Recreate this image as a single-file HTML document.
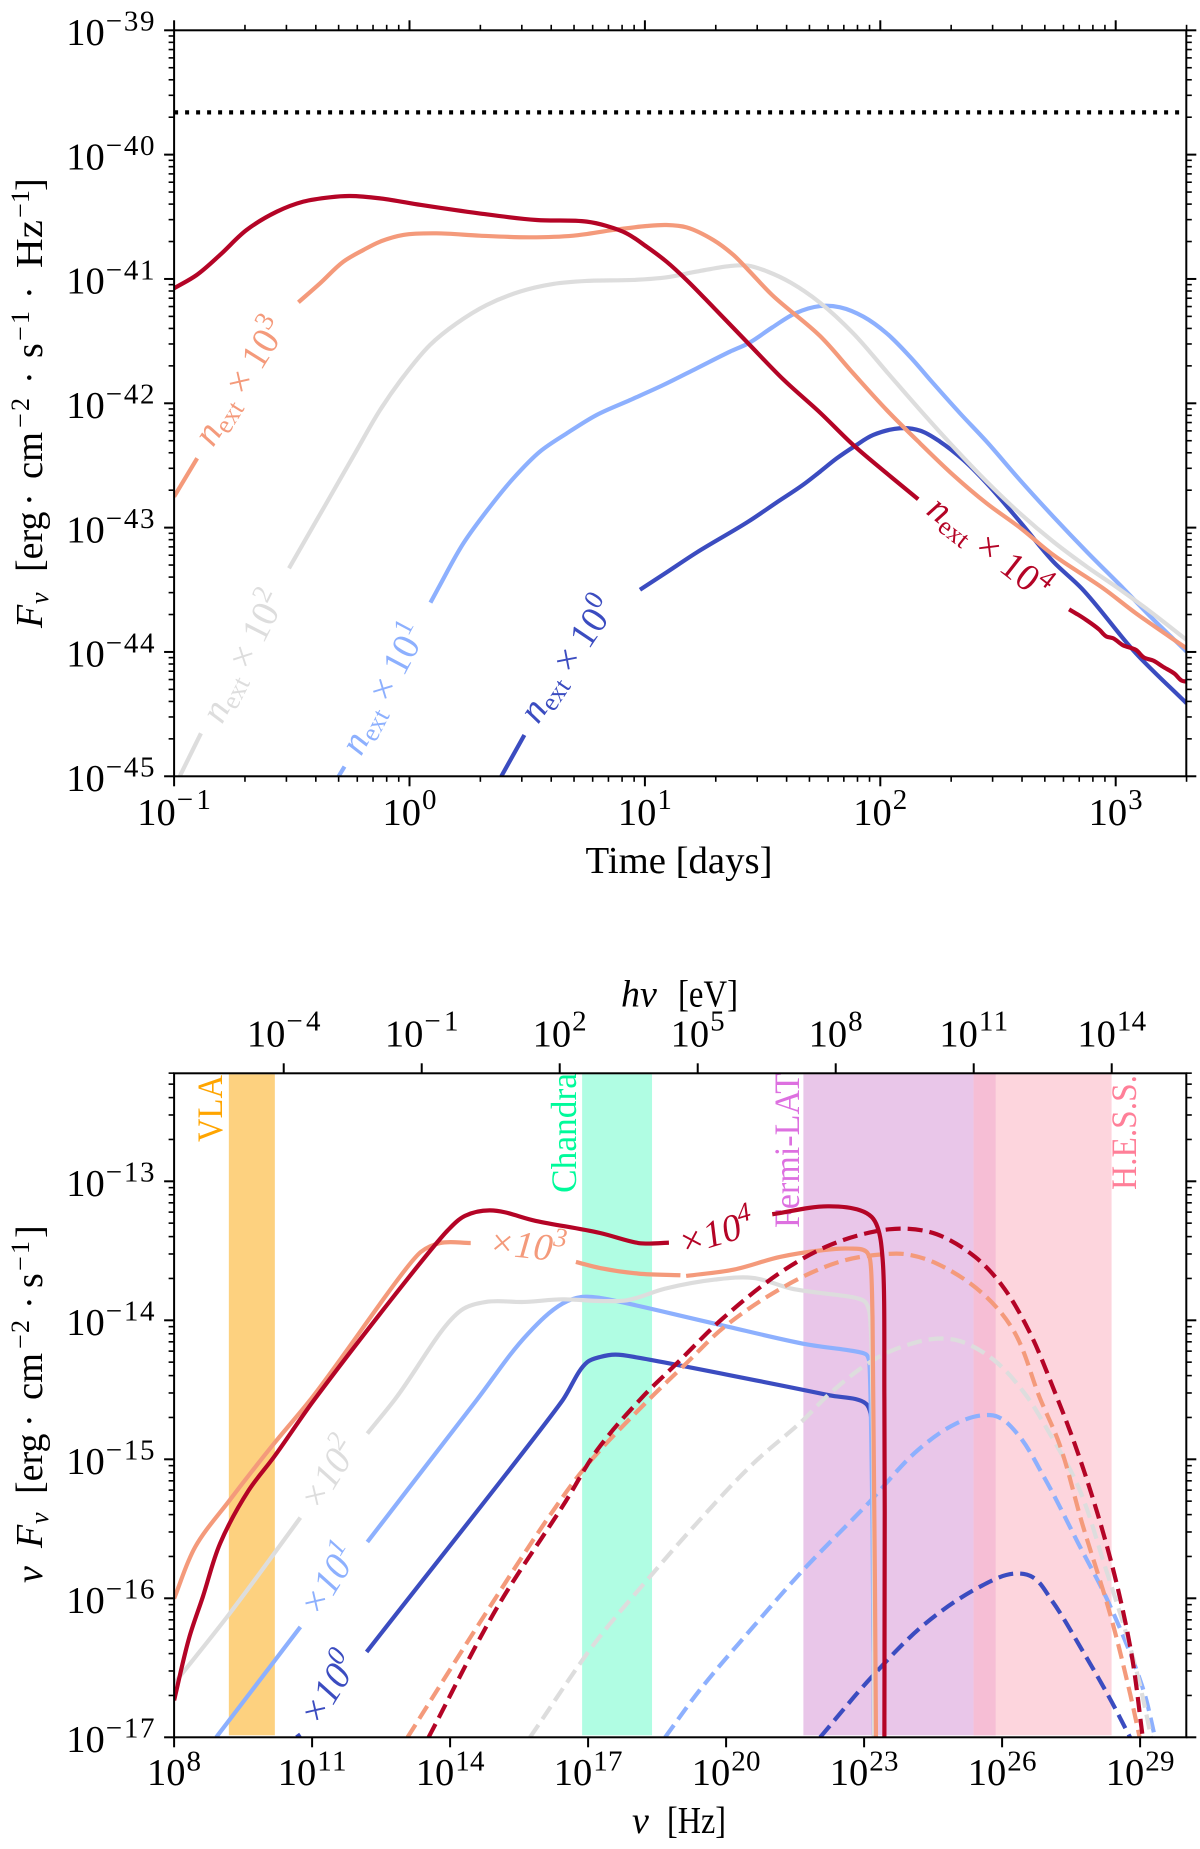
<!DOCTYPE html>
<html lang="en">
<head>
<meta charset="utf-8">
<title>Afterglow light curves and spectra</title>
<style>
html,body{margin:0;padding:0;background:#fff;}
svg{display:block;}
text{font-family:"Liberation Serif","DejaVu Serif",serif;fill:#000;}
.ylab{font-size:38px;}
.ysup{font-size:26px;}
.ysub{font-size:26px;font-style:italic;}
.it{font-style:italic;}
</style>
</head>
<body>
<svg id="figure" xmlns="http://www.w3.org/2000/svg" width="1200" height="1849" viewBox="0 0 1200 1849">
  <defs>
    <clipPath id="clip-top"><rect x="174.1" y="30.3" width="1012.2" height="746"/></clipPath>
    <clipPath id="clip-bottom"><rect x="174.1" y="1073.3" width="1012.2" height="664"/></clipPath>
  </defs>
  <rect x="0" y="0" width="1200" height="1849" fill="#ffffff"/>

  <g id="top-curves" clip-path="url(#clip-top)"></g>

  <g>
    <text transform="translate(213,448) rotate(-58)" font-size="38" style="fill:#f49a7b"><tspan class="it">n</tspan><tspan font-size="26" dy="6">ext</tspan><tspan dy="-6" dx="9">×</tspan><tspan dx="9">10</tspan><tspan font-size="27" dy="-15">3</tspan></text>
    <text transform="translate(222,725) rotate(-63)" font-size="38" style="fill:#dddddd"><tspan class="it">n</tspan><tspan font-size="26" dy="6">ext</tspan><tspan dy="-6" dx="9">×</tspan><tspan dx="9">10</tspan><tspan font-size="27" dy="-15">2</tspan></text>
    <text transform="translate(361,757) rotate(-62)" font-size="38" style="fill:#8db0fe"><tspan class="it">n</tspan><tspan font-size="26" dy="6">ext</tspan><tspan dy="-6" dx="9">×</tspan><tspan dx="9">10</tspan><tspan font-size="27" dy="-15">1</tspan></text>
    <text transform="translate(538,725) rotate(-56)" font-size="38" style="fill:#3b4cc0"><tspan class="it">n</tspan><tspan font-size="26" dy="6">ext</tspan><tspan dy="-6" dx="9">×</tspan><tspan dx="9">10</tspan><tspan font-size="27" dy="-15">0</tspan></text>
    <text transform="translate(925,513) rotate(38)" font-size="38" style="fill:#b40426"><tspan class="it">n</tspan><tspan font-size="26" dy="6">ext</tspan><tspan dy="-6" dx="10">×</tspan><tspan dx="10">10</tspan><tspan font-size="27" dy="-15">4</tspan></text>
  </g>

  <g id="top-axes"></g>

  <text x="585.5" y="873" font-size="38" textLength="187" lengthAdjust="spacingAndGlyphs">Time [days]</text>

  <g>
    <text class="ylab it" transform="translate(42,628) rotate(-90)">F</text>
    <text class="ysub" transform="translate(48,604) rotate(-90)">ν</text>
    <text class="ylab" transform="translate(42,572) rotate(-90)">[erg</text>
    <text class="ylab" transform="translate(42,506) rotate(-90)">·</text>
    <text class="ylab" transform="translate(42,479) rotate(-90)" textLength="47" lengthAdjust="spacingAndGlyphs">cm</text>
    <text class="ysup" transform="translate(29,428) rotate(-90)" textLength="30">−2</text>
    <text class="ylab" transform="translate(42,384) rotate(-90)">·</text>
    <text class="ylab" transform="translate(42,358) rotate(-90)">s</text>
    <text class="ysup" transform="translate(29,341) rotate(-90)" textLength="30">−1</text>
    <text class="ylab" transform="translate(42,299) rotate(-90)">·</text>
    <text class="ylab" transform="translate(42,268) rotate(-90)" textLength="48" lengthAdjust="spacingAndGlyphs">Hz</text>
    <text class="ysup" transform="translate(29,218) rotate(-90)" textLength="28">−1</text>
    <text class="ylab" transform="translate(42,191) rotate(-90)">]</text>
  </g>

  <g id="bottom-bands"></g>

  <g>
    <text transform="translate(222,1142) rotate(-90)" font-size="36" textLength="67" lengthAdjust="spacingAndGlyphs" style="fill:#ffa500">VLA</text>
    <text transform="translate(576,1193) rotate(-90)" font-size="36" textLength="120" lengthAdjust="spacingAndGlyphs" style="fill:#00fa9a">Chandra</text>
    <text transform="translate(1136,1190) rotate(-90)" font-size="36" textLength="115" lengthAdjust="spacingAndGlyphs" style="fill:#ff7f98">H.E.S.S.</text>
    <text transform="translate(799,1228) rotate(-90)" font-size="36" textLength="155" lengthAdjust="spacingAndGlyphs" style="fill:#dd70e0">Fermi-LAT</text>
  </g>

  <g id="bottom-curves" clip-path="url(#clip-bottom)"></g>

  <g>
    <text class="it" transform="translate(488,1254) rotate(6)" font-size="38" style="fill:#f49a7b">×10<tspan font-size="27" dy="-15">3</tspan></text>
    <text class="it" transform="translate(683,1256) rotate(-17)" font-size="38" style="fill:#b40426">×10<tspan font-size="27" dy="-15">4</tspan></text>
    <text class="it" transform="translate(319,1513) rotate(-58)" font-size="38" style="fill:#dddddd">×10<tspan font-size="27" dy="-15">2</tspan></text>
    <text class="it" transform="translate(319,1619) rotate(-58)" font-size="38" style="fill:#8db0fe">×10<tspan font-size="27" dy="-15">1</tspan></text>
    <text class="it" transform="translate(319,1728) rotate(-58)" font-size="38" style="fill:#3b4cc0">×10<tspan font-size="27" dy="-15">0</tspan></text>
  </g>

  <g id="bottom-axes"></g>

  <g>
    <text class="it" x="632" y="1833" font-size="38">ν</text>
    <text x="667" y="1833" font-size="38" textLength="59" lengthAdjust="spacingAndGlyphs">[Hz]</text>
  </g>
  <g>
    <text class="it" x="621" y="1006.7" font-size="38">hν</text>
    <text x="678" y="1006.7" font-size="38" textLength="60" lengthAdjust="spacingAndGlyphs">[eV]</text>
  </g>

  <g>
    <text class="ylab it" transform="translate(42,1583) rotate(-90)">ν</text>
    <text class="ylab it" transform="translate(42,1548) rotate(-90)">F</text>
    <text class="ysub" transform="translate(48,1524) rotate(-90)">ν</text>
    <text class="ylab" transform="translate(42,1494) rotate(-90)">[erg</text>
    <text class="ylab" transform="translate(42,1427) rotate(-90)">·</text>
    <text class="ylab" transform="translate(42,1400) rotate(-90)" textLength="47" lengthAdjust="spacingAndGlyphs">cm</text>
    <text class="ysup" transform="translate(29,1349) rotate(-90)" textLength="29">−2</text>
    <text class="ylab" transform="translate(42,1309) rotate(-90)">·</text>
    <text class="ylab" transform="translate(42,1288) rotate(-90)">s</text>
    <text class="ysup" transform="translate(29,1271) rotate(-90)" textLength="30">−1</text>
    <text class="ylab" transform="translate(42,1238) rotate(-90)">]</text>
  </g>
</svg>

<script>
// ---------- Light-curve panel data (log10 time [days], log10 flux) ----------
const redLogT = [-1,-0.904,-0.805,-0.692,-0.564,-0.451,-0.338,-0.253,-0.125,0.049,0.293,0.54,0.753,0.838,0.922,1.007,1.092,1.177,1.291,1.439,1.59,1.744,1.885,2.027,2.161,null,2.802,2.84,2.875,2.93,2.96,2.989,3.03,3.086,3.12,3.16,3.2,3.25,3.28,3.301];
const redLogF = [-41.075,-40.968,-40.807,-40.606,-40.459,-40.378,-40.343,-40.333,-40.352,-40.405,-40.472,-40.526,-40.539,-40.574,-40.633,-40.74,-40.861,-41.008,-41.228,-41.518,-41.812,-42.075,-42.335,-42.563,-42.772,null,-43.657,-43.7,-43.743,-43.82,-43.875,-43.89,-43.945,-43.984,-44.045,-44.07,-44.118,-44.175,-44.23,-44.239];

const orangeLogT = [-1,-0.902,null,-0.472,-0.38,-0.281,-0.196,-0.125,-0.026,0.115,0.299,0.512,0.696,0.866,1.007,1.092,1.177,1.291,1.376,1.439,1.541,1.744,1.885,2.027,2.169,2.31,2.452,2.593,2.735,2.947,3.086,3.301];
const orangeLogF = [-42.751,-42.442,null,-41.188,-41.035,-40.861,-40.767,-40.7,-40.646,-40.633,-40.652,-40.665,-40.652,-40.606,-40.574,-40.566,-40.585,-40.687,-40.807,-40.928,-41.13,-41.459,-41.759,-42.054,-42.322,-42.577,-42.805,-43.0,-43.22,-43.488,-43.689,-43.971];

const grayLogT = [-0.976,-0.886,null,-0.512,-0.358,-0.228,-0.125,-0.026,0.087,0.2,0.328,0.469,0.611,0.752,0.951,1.092,1.22,1.361,1.439,1.52,1.62,1.744,1.885,2.027,2.169,2.31,2.452,2.593,2.735,2.877,3.011,3.15,3.301];
const grayLogF = [-45,-44.654,null,-43.327,-42.82,-42.39,-42.054,-41.786,-41.531,-41.357,-41.209,-41.102,-41.04,-41.016,-41.008,-40.987,-40.941,-40.896,-40.893,-40.94,-41.03,-41.191,-41.437,-41.746,-42.054,-42.349,-42.63,-42.885,-43.113,-43.314,-43.488,-43.68,-43.903];

const lightBlueLogT = [-0.301,-0.276,null,0.089,0.122,0.229,0.342,0.441,0.554,0.668,0.795,0.937,1.078,1.22,1.361,1.439,1.541,1.639,1.744,1.829,1.928,2.027,2.126,2.225,2.339,2.452,2.593,2.735,2.877,3.032,3.15,3.301];
const lightBlueLogF = [-45,-44.922,null,-43.603,-43.488,-43.126,-42.832,-42.604,-42.389,-42.242,-42.094,-41.974,-41.853,-41.719,-41.585,-41.518,-41.39,-41.276,-41.218,-41.228,-41.303,-41.437,-41.625,-41.84,-42.081,-42.309,-42.617,-42.912,-43.194,-43.488,-43.72,-43.997];

const blueLogT = [0.39,0.488,null,0.979,1.092,1.22,1.439,1.558,1.671,1.744,1.815,1.892,1.97,2.084,2.169,2.254,2.353,2.452,2.593,2.735,2.855,3.086,3.301];
const blueLogF = [-45,-44.668,null,-43.5,-43.36,-43.2,-42.952,-42.8,-42.657,-42.55,-42.443,-42.344,-42.255,-42.201,-42.22,-42.309,-42.456,-42.644,-42.952,-43.274,-43.488,-44.011,-44.413];

const limitLogF = [-39.66, -39.66];
const limitLogT = [-1, 3.301];

const timeTickExps = [-1, 0, 1, 2, 3];
const fluxTickExps = [-39, -40, -41, -42, -43, -44, -45];

// ---------- Spectrum panel data: solid curves (log10 nu [Hz], log10 nuFnu) ----------
const redSolidLogNu = [8,8.333,8.624,8.998,9.622,10.171,11.037,13.948,14.323,14.864,15.862,17.26,18.092,18.341,18.757,null,21.003,22.21,22.917,23.166,23.291,23.399,23.441,23.441];
const redSolidLogF = [-16.734,-16.278,-15.99,-15.607,-15.223,-14.983,-14.576,-13.353,-13.249,-13.209,-13.285,-13.372,-13.444,-13.448,-13.441,null,-13.237,-13.18,-13.209,-13.257,-13.329,-13.544,-14.575,-17];

const orangeSolidLogNu = [8,8.458,9.206,10.171,10.953,13.366,13.782,14.448,null,16.735,17.26,18.092,19.007,null,19.131,20.171,21.17,22.085,22.667,23.042,23.125,23.183,23.258];
const orangeSolidLogF = [-16.002,-15.631,-15.295,-14.887,-14.576,-13.508,-13.444,-13.444,null,-13.58,-13.624,-13.664,-13.676,null,-13.681,-13.635,-13.544,-13.496,-13.484,-13.504,-13.556,-13.976,-17];

const graySolidLogNu = [8,9.206,10.745,null,12.201,12.784,14.24,14.78,15.612,16.444,17.26,17.842,18.674,19.755,20.587,21.419,22.999,23.108,23.183,23.216];
const graySolidLogF = [-16.614,-16.11,-15.42,null,-14.815,-14.576,-13.928,-13.868,-13.868,-13.849,-13.861,-13.856,-13.772,-13.707,-13.695,-13.772,-13.861,-13.928,-14.576,-17];

const lightBlueSolidLogNu = [8.915,10.745,null,12.201,14.572,15.695,16.444,16.86,17.26,19.755,21.669,23.042,23.108,23.183,23.216];
const lightBlueSolidLogF = [-17,-16.206,null,-15.595,-14.576,-14.096,-13.88,-13.832,-13.839,-14.024,-14.168,-14.245,-14.288,-15.5,-17];

const blueSolidLogNu = [10.66,10.745,null,12.185,16.444,16.985,17.26,17.592,18.092,22.251,23.042,23.141,23.183,23.216];
const blueSolidLogF = [-17,-16.98,null,-16.386,-14.576,-14.3,-14.264,-14.247,-14.269,-14.54,-14.6,-14.671,-15.3,-17];

// ---------- Spectrum panel data: dashed curves ----------
const redDashLogNu = [13.532,15.03,16.527,17.193,18.216,18.923,19.922,21.253,22.251,23.25,23.915,24.581,25.413,25.995,26.578,27.16,27.576,28.075,28.491,28.824,29.057];
const redDashLogF = [-17,-16.062,-15.295,-14.935,-14.54,-14.312,-13.988,-13.64,-13.46,-13.36,-13.341,-13.381,-13.544,-13.748,-14.072,-14.528,-14.887,-15.391,-15.895,-16.422,-17];

const orangeDashLogNu = [13.075,14.864,16.195,16.943,18.341,19.09,20.005,21.586,22.584,23.416,23.915,24.581,25.579,26.245,26.827,27.243,27.742,28.366,28.782,28.99];
const orangeDashLogF = [-17,-16.062,-15.391,-15.055,-14.564,-14.324,-14.036,-13.7,-13.568,-13.525,-13.525,-13.592,-13.808,-14.072,-14.564,-14.887,-15.463,-16.134,-16.686,-17];

const grayDashLogNu = [15.737,17.193,18.341,19.256,20.587,21.669,22.251,23.25,23.915,24.581,25.08,25.829,26.495,26.993,27.659,28.241,28.699,28.99,29.24];
const grayDashLogF = [-17,-16.302,-15.846,-15.499,-15.031,-14.72,-14.528,-14.276,-14.18,-14.132,-14.149,-14.288,-14.528,-14.791,-15.199,-15.775,-16.254,-16.614,-17];

const lightBlueDashLogNu = [18.674,19.423,20.587,21.669,23.083,24.165,24.997,25.579,25.912,26.328,26.91,27.659,28.325,29.074,29.324];
const lightBlueDashLogF = [-17,-16.662,-16.206,-15.799,-15.319,-14.935,-14.743,-14.683,-14.695,-14.815,-15.127,-15.607,-16.038,-16.662,-17];

const blueDashLogNu = [22.044,23.166,24.331,25.579,26.245,26.661,27.077,27.742,28.325,28.782];
const blueDashLogF = [-17,-16.566,-16.182,-15.906,-15.823,-15.847,-16.014,-16.374,-16.71,-17];

// ---------- Spectrum panel ticks and bands ----------
const nuTickExps = [8, 11, 14, 17, 20, 23, 26, 29];
const energyTickExps = [-4, -1, 2, 5, 8, 11, 14];
const nuFluxTickExps = [-13, -14, -15, -16, -17];
const vlaBandLogNu = [9.19, 10.19];
const chandraBandLogNu = [16.87, 18.39];
const fermiBandLogNu = [21.68, 25.86];
const hessBandLogNu = [25.38, 28.38];

// ---------- Axis functions ----------
const SVGNS = 'http://www.w3.org/2000/svg';
const LEFT = 174.1, RIGHT = 1186.3;
const TOP1 = 30.3, BOT1 = 776.3, TOP2 = 1073.3, BOT2 = 1737.3;
function xTime(v){ return LEFT + (v + 1) * 235.4; }
function yFlux(v){ return TOP1 + (-39 - v) * 124.33; }
function xNu(v){ return LEFT + (v - 8) * 46.0; }
function xEnergy(v){ return xNu(v + 14.383); }
function yNuFlux(v){ return BOT2 - (v + 17) * 139.0; }

function mk(tag, attrs, parent){
  const el = document.createElementNS(SVGNS, tag);
  for (const k in attrs) el.setAttribute(k, attrs[k]);
  parent.appendChild(el);
  return el;
}

function dist(a, b){ return Math.hypot(a[0] - b[0], a[1] - b[1]) || 1e-6; }

// Unit tangent at point i: the bisector of the two adjoining chords.
function tangentAt(p, i){
  const prev = p[Math.max(i - 1, 0)], next = p[Math.min(i + 1, p.length - 1)], here = p[i];
  let tx = 0, ty = 0;
  if (i > 0){ const l = dist(here, prev); tx += (here[0] - prev[0]) / l; ty += (here[1] - prev[1]) / l; }
  if (i < p.length - 1){ const l = dist(next, here); tx += (next[0] - here[0]) / l; ty += (next[1] - here[1]) / l; }
  const n = Math.hypot(tx, ty) || 1;
  return [tx / n, ty / n];
}

// Control-handle length: a third of the segment, capped by the shortest chord at the point.
function handleAt(p, i, segLen){
  let m = segLen / 3;
  if (i > 0) m = Math.min(m, dist(p[i], p[i - 1]));
  if (i < p.length - 1) m = Math.min(m, dist(p[i], p[i + 1]));
  return m;
}

function curvePath(xs, ys, fx, fy, smooth){
  const runs = []; let cur = [];
  for (let i = 0; i < xs.length; i++){
    if (xs[i] === null || ys[i] === null){ if (cur.length) runs.push(cur); cur = []; }
    else cur.push([fx(xs[i]), fy(ys[i])]);
  }
  if (cur.length) runs.push(cur);
  let d = '';
  for (const p of runs){
    d += 'M' + p[0][0].toFixed(2) + ' ' + p[0][1].toFixed(2);
    for (let i = 1; i < p.length; i++){
      if (!smooth){ d += 'L' + p[i][0].toFixed(2) + ' ' + p[i][1].toFixed(2); continue; }
      const l = dist(p[i - 1], p[i]);
      const t0 = tangentAt(p, i - 1), t1 = tangentAt(p, i);
      const h0 = handleAt(p, i - 1, l), h1 = handleAt(p, i, l);
      const c1x = p[i - 1][0] + t0[0] * h0, c1y = p[i - 1][1] + t0[1] * h0;
      const c2x = p[i][0] - t1[0] * h1, c2y = p[i][1] - t1[1] * h1;
      d += 'C' + c1x.toFixed(2) + ' ' + c1y.toFixed(2) + ' ' + c2x.toFixed(2) + ' ' + c2y.toFixed(2) + ' ' + p[i][0].toFixed(2) + ' ' + p[i][1].toFixed(2);
    }
  }
  return d;
}

function addCurve(parent, name, xs, ys, fx, fy, color, smooth, dash){
  const el = mk('path', {d: curvePath(xs, ys, fx, fy, smooth), fill: 'none', stroke: color, 'stroke-width': 4.2, 'stroke-linejoin': 'round'}, parent);
  if (dash) el.setAttribute('stroke-dasharray', dash);
  
  
  return el;
}

function addTick(parent, name, x1, y1, x2, y2, w){
  const el = mk('line', {x1: x1, y1: y1, x2: x2, y2: y2, stroke: '#000', 'stroke-width': w}, parent);
  
  
}

function powerLabel(parent, name, x, baseY, supY, exp, anchor){
  const s = (exp < 0 ? '\u2212' : '') + Math.abs(exp);
  const digits = String(Math.abs(exp)).length;
  const supW = (exp < 0 ? 19.5 : 0) + digits * 14.6;
  const total = 38.5 + 1 + supW;
  const left = anchor === 'end' ? x - total : x - total / 2;
  const g = mk('g', {}, parent);
  
  
  const t1 = mk('text', {x: left, y: baseY, 'font-size': 38.5}, g);
  t1.textContent = '10';
  const t2 = mk('text', {x: left + 39.5, y: supY, 'font-size': 29, textLength: supW, lengthAdjust: 'spacing'}, g);
  t2.textContent = s;
}

function frame(parent, name, top, bottom){
  const el = mk('rect', {x: LEFT, y: top, width: RIGHT - LEFT, height: bottom - top, fill: 'none', stroke: '#000', 'stroke-width': 2}, parent);
  
  
}

// ---------- Light-curve panel ----------
const topG = document.getElementById('top-curves');
addCurve(topG, 'flux-limit-dotted-line', limitLogT, limitLogF, xTime, yFlux, '#000', false, '4 7');
addCurve(topG, 'curve-next-1e0', blueLogT, blueLogF, xTime, yFlux, '#3b4cc0', true);
addCurve(topG, 'curve-next-1e1', lightBlueLogT, lightBlueLogF, xTime, yFlux, '#8db0fe', true);
addCurve(topG, 'curve-next-1e2', grayLogT, grayLogF, xTime, yFlux, '#dddddd', true);
addCurve(topG, 'curve-next-1e3', orangeLogT, orangeLogF, xTime, yFlux, '#f49a7b', true);
addCurve(topG, 'curve-next-1e4', redLogT, redLogF, xTime, yFlux, '#b40426', true);

const topAxes = document.getElementById('top-axes');
frame(topAxes, 'light-curve-frame', TOP1, BOT1);
for (const e of timeTickExps){
  const x = xTime(e);
  addTick(topAxes, 'x-tick-major', x, BOT1, x, BOT1 + 10, 2);
  addTick(topAxes, 'x-tick-major-top', x, TOP1, x, TOP1 - 10, 2);
  powerLabel(topAxes, 'x-tick-label', x, BOT1 + 48.7, BOT1 + 32.8, e, 'center');
  for (let m = 2; m <= 9; m++){
    const v = e + Math.log10(m);
    if (xTime(v) > RIGHT + 0.5) continue;
    addTick(topAxes, 'x-tick-minor', xTime(v), BOT1, xTime(v), BOT1 + 5.5, 1.6);
    addTick(topAxes, 'x-tick-minor-top', xTime(v), TOP1, xTime(v), TOP1 - 5.5, 1.6);
  }
}
for (const e of fluxTickExps){
  const y = yFlux(e);
  addTick(topAxes, 'y-tick-major', LEFT, y, LEFT - 10, y, 2);
  addTick(topAxes, 'y-tick-major-right', RIGHT, y, RIGHT + 10, y, 2);
  powerLabel(topAxes, 'y-tick-label', 154.5, y + 14.7, y + 0.4, e, 'end');
  if (e === -39) continue;
  for (let m = 2; m <= 9; m++){
    const yy = yFlux(e + Math.log10(m));
    addTick(topAxes, 'y-tick-minor', LEFT, yy, LEFT - 5.5, yy, 1.6);
    addTick(topAxes, 'y-tick-minor-right', RIGHT, yy, RIGHT + 5.5, yy, 1.6);
  }
}

// ---------- Spectrum panel ----------
const bandG = document.getElementById('bottom-bands');
function addBand(name, range, color){
  const el = mk('rect', {x: xNu(range[0]), y: TOP2 + 1, width: xNu(range[1]) - xNu(range[0]), height: BOT2 - TOP2 - 3, fill: color}, bandG);
  
  
}
addBand('band-vla', vlaBandLogNu, '#fdd17f');
addBand('band-chandra', chandraBandLogNu, '#b0fde3');
addBand('band-fermi-lat', fermiBandLogNu, '#e9c6e9');
addBand('band-hess', hessBandLogNu, '#fdd5dd');
addBand('band-overlap', [Math.max(fermiBandLogNu[0], hessBandLogNu[0]), Math.min(fermiBandLogNu[1], hessBandLogNu[1])], '#f6bed5');

const botG = document.getElementById('bottom-curves');
const DASH = '15 7';
addCurve(botG, 'spectrum-solid-1e0', blueSolidLogNu, blueSolidLogF, xNu, yNuFlux, '#3b4cc0', true);
addCurve(botG, 'spectrum-dashed-1e0', blueDashLogNu, blueDashLogF, xNu, yNuFlux, '#3b4cc0', true, DASH);
addCurve(botG, 'spectrum-solid-1e1', lightBlueSolidLogNu, lightBlueSolidLogF, xNu, yNuFlux, '#8db0fe', true);
addCurve(botG, 'spectrum-dashed-1e1', lightBlueDashLogNu, lightBlueDashLogF, xNu, yNuFlux, '#8db0fe', true, DASH);
addCurve(botG, 'spectrum-solid-1e2', graySolidLogNu, graySolidLogF, xNu, yNuFlux, '#dddddd', true);
addCurve(botG, 'spectrum-dashed-1e2', grayDashLogNu, grayDashLogF, xNu, yNuFlux, '#dddddd', true, DASH);
addCurve(botG, 'spectrum-solid-1e3', orangeSolidLogNu, orangeSolidLogF, xNu, yNuFlux, '#f49a7b', true);
addCurve(botG, 'spectrum-dashed-1e3', orangeDashLogNu, orangeDashLogF, xNu, yNuFlux, '#f49a7b', true, DASH);
addCurve(botG, 'spectrum-solid-1e4', redSolidLogNu, redSolidLogF, xNu, yNuFlux, '#b40426', true);
addCurve(botG, 'spectrum-dashed-1e4', redDashLogNu, redDashLogF, xNu, yNuFlux, '#b40426', true, DASH);

const botAxes = document.getElementById('bottom-axes');
frame(botAxes, 'spectrum-frame', TOP2, BOT2);
for (const e of nuTickExps){
  const x = xNu(e);
  addTick(botAxes, 'nu-tick', x, BOT2, x, BOT2 + 10, 2);
  powerLabel(botAxes, 'nu-tick-label', x, BOT2 + 47.7, BOT2 + 33, e, 'center');
}
for (const e of energyTickExps){
  const x = xEnergy(e);
  addTick(botAxes, 'energy-tick', x, TOP2, x, TOP2 - 10, 2);
  powerLabel(botAxes, 'energy-tick-label', x, TOP2 - 27, TOP2 - 43, e, 'center');
}
for (const e of nuFluxTickExps){
  const y = yNuFlux(e);
  addTick(botAxes, 'nu-flux-tick-major', LEFT, y, LEFT - 10, y, 2);
  addTick(botAxes, 'nu-flux-tick-major-right', RIGHT, y, RIGHT + 10, y, 2);
  powerLabel(botAxes, 'nu-flux-tick-label', 154.5, y + 14.7, y + 0.4, e, 'end');
}
for (const e of [-12, -13, -14, -15, -16, -17]){
  for (let m = 2; m <= 9; m++){
    const yy = yNuFlux(e + Math.log10(m));
    if (yy < TOP2 - 0.5) continue;
    addTick(botAxes, 'nu-flux-tick-minor', LEFT, yy, LEFT - 5.5, yy, 1.6);
    addTick(botAxes, 'nu-flux-tick-minor-right', RIGHT, yy, RIGHT + 5.5, yy, 1.6);
  }
}
</script>
</body>
</html>
